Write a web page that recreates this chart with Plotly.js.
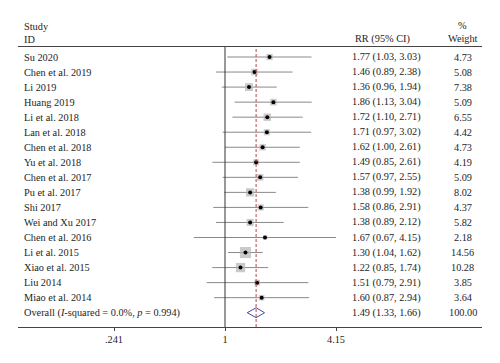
<!DOCTYPE html>
<html>
<head>
<meta charset="utf-8">
<script src="https://cdn.plot.ly/plotly-3.0.1.min.js"></script>
<style>html,body{margin:0;padding:0;background:#fff;}#chart{width:500px;height:363px;}</style>
</head>
<body>
<div id="chart"></div>
<script>
var studies = ["Su 2020","Chen et al. 2019","Li 2019","Huang 2019","Li et al. 2018","Lan et al. 2018","Chen et al. 2018","Yu et al. 2018","Chen et al. 2017","Pu et al. 2017","Shi 2017","Wei and Xu 2017","Chen et al. 2016","Li et al. 2015","Xiao et al. 2015","Liu 2014","Miao et al. 2014"];
var rr = [1.77,1.46,1.36,1.86,1.72,1.71,1.62,1.49,1.57,1.38,1.58,1.38,1.67,1.30,1.22,1.51,1.60];
var lo = [1.03,0.89,0.96,1.13,1.10,0.97,1.00,0.85,0.97,0.99,0.86,0.89,0.67,1.04,0.85,0.79,0.87];
var hi = [3.03,2.38,1.94,3.04,2.71,3.02,2.61,2.61,2.55,1.92,2.91,2.12,4.15,1.62,1.74,2.91,2.94];
var weights = [4.73,5.08,7.38,5.09,6.55,4.42,4.73,4.19,5.09,8.02,4.37,5.82,2.18,14.56,10.28,3.85,3.64];
var overallLabel = "Overall (<i>I</i>-squared = 0.0%, <i>p</i> = 0.994)";
var overallRR = 1.49, overallLo = 1.33, overallHi = 1.66, overallWeight = 100.00;
var tickVals = [0.241, 1, 4.15];
var tickText = [".241", "1", "4.15"];

var FONT = "Liberation Serif, Times New Roman, serif";
var FS = 10.3;
var TXT = "#1e1e1e";
var rows = studies.map(function(_, i){ return i; });
var overallRow = studies.length;

// CI lines
var cx = [], cy = [];
for (var i = 0; i < studies.length; i++) {
  cx.push(lo[i], hi[i], null);
  cy.push(i, i, null);
}
var traces = [];
traces.push({x: cx, y: cy, mode: "lines", type: "scatter", line: {color: "#8a8a8a", width: 1}, hoverinfo: "skip", showlegend: false, cliponaxis: false});
traces.push({x: rr, y: rows, mode: "markers", type: "scatter",
  marker: {symbol: "square", color: "#b4b4b4", size: weights.map(function(w){ return 2.9 * Math.sqrt(w); }), line: {width: 0}},
  showlegend: false, hoverinfo: "skip"});
traces.push({x: rr, y: rows, mode: "markers", type: "scatter",
  marker: {symbol: "circle", color: "#000", size: 4}, showlegend: false, hoverinfo: "skip"});
// Overall diamond
var dh = 0.33;
traces.push({x: [overallLo, overallRR, overallHi, overallRR, overallLo],
  y: [overallRow, overallRow - dh, overallRow, overallRow + dh, overallRow],
  mode: "lines", type: "scatter", line: {color: "#4b45a0", width: 1}, showlegend: false, hoverinfo: "skip"});

var ann = [];
function pxX(px){ return (px - 18) / 464; }
function pxY(py){ return 1 + (47 - py) / 280; }
function addText(xr, yr, x, y, anchor, text) {
  ann.push({xref: xr, yref: yr, x: x, y: y, xanchor: anchor, yanchor: "middle", text: text, showarrow: false, font: {family: FONT, size: FS, color: TXT}});
}
for (var i = 0; i < studies.length; i++) {
  addText("paper", "y", pxX(22), i, "left", studies[i]);
  addText("paper", "y", pxX(350), i, "left", rr[i].toFixed(2) + " (" + lo[i].toFixed(2) + ", " + hi[i].toFixed(2) + ")");
  addText("paper", "y", pxX(462.5), i, "center", weights[i].toFixed(2));
}
addText("paper", "y", pxX(22), overallRow, "left", overallLabel);
addText("paper", "y", pxX(350), overallRow, "left", overallRR.toFixed(2) + " (" + overallLo.toFixed(2) + ", " + overallHi.toFixed(2) + ")");
addText("paper", "y", pxX(462.5), overallRow, "center", overallWeight.toFixed(2));
// headers
addText("paper", "paper", pxX(22), pxY(26), "left", "Study");
addText("paper", "paper", pxX(22), pxY(39), "left", "ID");
addText("paper", "paper", pxX(382.5), pxY(38.5), "center", "RR (95% CI)");
addText("paper", "paper", pxX(462.5), pxY(25), "center", "%");
addText("paper", "paper", pxX(462.5), pxY(38.5), "center", "Weight");

var layout = {
  width: 500, height: 363,
  margin: {l: 18, r: 18, t: 47, b: 36},
  paper_bgcolor: "#fff", plot_bgcolor: "#fff",
  showlegend: false,
  xaxis: {type: "log", range: [-1.1526, 1.431], tickvals: tickVals, ticktext: tickText,
    showgrid: false, zeroline: false, showline: true, mirror: true, linecolor: "#444", linewidth: 1,
    ticks: "outside", ticklen: 3, tickcolor: "#444", tickfont: {family: FONT, size: FS, color: TXT}, fixedrange: true},
  yaxis: {range: [17.95, -0.665], showgrid: false, zeroline: false, showline: false, showticklabels: false, ticks: "", fixedrange: true},
  shapes: [
    {type: "line", xref: "x", yref: "paper", x0: 1, x1: 1, y0: 0, y1: 1, line: {color: "#333", width: 1}},
    {type: "line", xref: "x", yref: "paper", x0: overallRR, x1: overallRR, y0: 0, y1: 1, line: {color: "#b5474b", width: 1, dash: "3px,2px"}}
  ],
  annotations: ann
};
Plotly.newPlot("chart", traces, layout, {staticPlot: true, displayModeBar: false});
</script>
</body>
</html>
